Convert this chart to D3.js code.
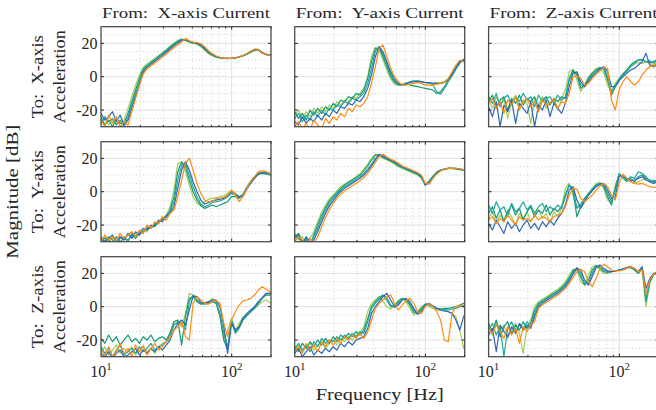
<!DOCTYPE html>
<html>
<head>
<meta charset="utf-8">
<script src="https://cdn.jsdelivr.net/npm/d3@7"></script>
<style>
    body { margin: 0; background: #fff; }
    text { font-family: "Liberation Serif", "DejaVu Serif", serif; fill: #262626; white-space: pre; }
</style>
</head>
<body>
<div id="chart"></div>
<script>
// frequency points shared by every curve [Hz]
const freqHz = [10, 10.7, 11.45, 12.25, 13.1, 14, 15, 16.1, 17.2, 18.4,
    19.7, 21, 22.5, 24.1, 25.8, 27.6, 29.5, 31.6, 33.8, 36.2,
    38.7, 41.4, 44.3, 47.4, 50.7, 54.3, 58.1, 62.1, 66.5, 71.1,
    76.1, 81.4, 87.1, 93.2, 99.7, 106.7, 114.2, 122.2, 130.7, 139.9,
    149.7, 160.1, 171.3, 183.3, 196.2, 200]

const inputNames = ["X-axis", "Y-axis", "Z-axis"]
const outputNames = ["X-axis", "Y-axis", "Z-axis"]
const yTicks = [-20, 0, 20]
const xTickExp = [1, 2]

// magnitude [dB], five measurements per transfer function
// From X current -> To X acceleration
const xToX_1 = [-27,-25,-29,-26,-28,-27,-26,-19,-12,-5, 1,5.5,7.6,9.3,11,12.8,14.6,16.4,18.3,20.2, 21.8,22.6,21.6,20.5,20.2,19.6,18,15.8,13.8,12.4, 11.6,11.2,11,11,11,11.2,11.7,12.4,13.4,14.6, 15.8,15.9,14,13.2,12.9,12.8]
const xToX_2 = [-24,-29,-26,-30,-25,-28,-28,-22,-15,-8, -1,4.5,6.8,8.6,10.4,12.2,14,15.9,17.8,19.6, 21.3,22.5,22,21,20.2,19.8,18.5,16.4,14.4,12.9, 11.9,11.3,11,11,11,11.2,11.8,12.6,13.6,14.8, 16,16.1,14.2,13.3,13,12.8]
const xToX_3 = [-28,-24,-27,-25,-29,-26,-30,-24,-17,-10, -3,3.5,6.2,8,9.8,11.6,13.4,15.3,17.2,19, 20.8,22.2,22.2,21.2,20.3,19.9,18.8,16.8,14.7,13.1, 12,11.4,11,10.9,11,11.2,11.8,12.6,13.7,15, 16.2,16.3,14.4,13.4,13,12.8]
const xToX_4 = [-22,-26,-24,-21,-27,-23,-29,-26,-19,-12, -5,2.5,5.6,7.4,9.2,11,12.8,14.7,16.6,18.5, 20.3,21.7,22.3,21.3,20.5,20,19.2,17.2,15,13.4, 12.2,11.5,11.1,11,11,11.3,11.9,12.7,13.8,15.1, 16.4,16.4,14.5,13.5,13.1,12.9]
const xToX_5 = [-26,-30,-23,-28,-24,-30,-27,-29,-21,-13, -5,1.5,4.8,6.4,8.2,10,11.8,13.6,15.5,17.4, 19.2,20.8,23,21.5,20.8,20.6,19.8,18,15.6,13.8, 12.4,11.6,11.1,11,11,11.3,11.9,12.8,13.9,15.3, 16.6,16.2,14.2,13.2,12.8,12.6]

// From Y current -> To X acceleration
const yToX_1 = [-23,-20,-25,-21,-24,-19,-22,-18,-21,-17, -19,-15,-17,-14,-15,-12,-13,-10,-7,0, 12,17.5,16,10,4,-1.5,-4.5,-5,-4.5,-3.5, -3.5,-3,-2.5,-3,-3.5,-4,-4,-3.5,-3.5,-3, -1,2,6,9,10,9]
const yToX_2 = [-21,-25,-22,-26,-20,-23,-19,-22,-18,-20, -16,-18,-14,-15,-12,-13,-10,-11,-8,-1, 9,17,17,12,6,0,-3.5,-5,-5,-4.5, -5,-5.5,-6,-6.5,-7,-7.5,-8,-10,-9,-6, -2,1,5,8.5,10,9.5]
const yToX_3 = [-25,-22,-27,-23,-26,-21,-24,-20,-23,-19, -20,-17,-18,-15,-16,-13,-14,-12,-10,-4, 5,15,18,13.5,7.5,1.5,-2.5,-4.5,-5,-4, -3,-2.5,-2.5,-3,-3.5,-3.5,-5,-9,-10.5,-7, -3,0.5,4.5,8,10.5,10]
const yToX_4 = [-27,-29,-24,-28,-25,-27,-23,-26,-22,-24, -20,-22,-18,-19,-16,-17,-14,-15,-12,-7, 1,12,18,15,9,3,-1.5,-4,-5,-4.5, -3.5,-3,-3,-3,-3.5,-3.5,-4,-4,-4,-3.5, -1.5,1.5,5.5,9,10,9.5]
const yToX_5 = [-30,-27,-31,-28,-32,-26,-29,-31,-25,-28, -24,-26,-22,-24,-19,-21,-17,-18,-16,-12, -4,6,17,19,12,5,0,-3,-5,-5, -4.5,-4,-3.5,-4,-5,-5,-5,-4.5,-4,-3.5, -1,3,7,10,9,8]

// From Z current -> To X acceleration
const zToX_1 = [-14,-19,-12,-17,-13,-25,-15,-11,-18,-14, -16,-28,-13,-17,-12,-19,-15,-14,-20,-13, -8,3,4.5,-2,-9,-5,0,2.5,5,5.5, 2,-5,-9,-4,-1,2,4,6,7.5,8.5, 8,9,8,7,9,10]
const zToX_2 = [-15,-11,-19,-14,-12,-20,-13,-16,-11,-17, -13,-15,-12,-19,-14,-12,-17,-13,-15,-12, -13,-1,4,1,-7,-5,-1,2,4,5.5, 4.5,-2,-11,-6,-1.5,1.5,4,7,9,10, 10,9,8.5,9,10.5,10]
const zToX_3 = [-12,-16,-10,-18,-13,-11,-17,-12,-15,-10, -14,-12,-18,-11,-15,-13,-12,-16,-11,-14, -12,-2,3,2,-5,-6,-2,1,3,5, 5.5,0,-9,-5,-2,1,3,6,8,10, 10.5,9,9.5,8,10,9]
const zToX_4 = [-18,-24,-15,-30,-17,-21,-14,-28,-16,-19, -22,-15,-30,-17,-20,-14,-24,-16,-19,-22, -16,-6,2,3,-3,-6,-3,0,2,4.5, 6,3,-6,-6,-2.5,0,2,4,5,7, 9,14,7,6,8,9]
const zToX_5 = [-16,-13,-19,-15,-22,-14,-17,-12,-20,-15, -13,-18,-15,-21,-14,-17,-16,-13,-19,-15, -16,-10,0,0.5,-1,-5,-4,-1,1.5,3.5, 5.5,5,-14,-20,-8,-3,0,-3,-5,-3, 1,4,6,7,5,7]

// From X current -> To Y acceleration
const xToY_1 = [-29,-27,-30,-28,-29,-27,-29,-26,-27,-25, -26,-23,-24,-21,-20,-18,-17,-14,-9,1, 17,17.5,12,4,-3,-7,-8,-6,-4.5,-4, -3.5,-3,-2.5,-1,1,-1,-3,-1,3,6.5, 9,11,11.5,11,10.5,10]
const xToY_2 = [-30,-28,-29,-31,-27,-30,-28,-29,-26,-28, -25,-24,-22,-22,-20,-19,-16,-15,-11,-3, 12,18,15,7,0,-5,-8.5,-10,-9,-8, -9,-8,-7,-6,-3,-3,-4,-2,2,6, 8.5,10.5,11,10.5,10,10]
const xToY_3 = [-28,-30,-27,-29,-31,-28,-27,-30,-25,-27, -24,-25,-21,-22,-19,-18,-17,-14,-12,-6, 7,16,17,10,3,-3,-7.5,-9,-8,-6.5, -6,-5.5,-4.5,-3,-1,-2,-3.5,-2,2.5,6, 9,11,11.5,11,10.5,10]
const xToY_4 = [-27,-30,-28,-26,-30,-27,-29,-25,-28,-24, -26,-22,-23,-20,-21,-17,-18,-15,-13,-9, 2,13,18,13,6,0,-5,-7.5,-6.5,-5.5, -5,-4.5,-4,-2.5,0,-1.5,-3,-2.5,1.5,5, 8,10.5,11.5,11.5,11,10.5]
const xToY_5 = [-30,-26,-29,-27,-30,-25,-28,-26,-24,-27, -23,-25,-20,-22,-18,-19,-15,-17,-13,-11, -3,7,17,20,13,5,-1,-5,-6,-6, -4,-4,-3.5,-2,1,-2,-6,-3,2,6, 9,12,12.5,12,11,10.5]

// From Y current -> To Y acceleration
const yToY_1 = [-25,-29,-27,-31,-28,-24,-18,-12,-8,-4.5, -2,0.5,3,4.5,6,7.5,9,11,13.5,16.5, 20,22.5,21.5,20,19,18,16.5,15,14,13, 12,11,10,8,4,6.5,9.5,12,13,13.5, 14,13.8,13.5,13.2,13,12.8]
const yToY_2 = [-27,-25,-30,-28,-32,-26,-20,-14,-9.5,-5.5, -3,-0.5,2,4,5.5,7,8.5,10,12.5,15.5, 19,22,22,20.5,19.5,18.5,17,15.5,14.5,13.5, 12.5,11.5,10.5,8.5,4.5,6,9,11.5,13,13.5, 14,14,13.6,13.3,13,12.8]
const yToY_3 = [-26,-28,-30,-29,-31,-27,-22,-16,-11,-7, -4,-1.5,1,3,4.5,6,7.5,9,11,13.5, 16.5,20,22,21,19.5,19,17.5,16,14.5,13.5, 12.5,11.5,10.5,9,4,6,9,11.5,13,13.5, 14,14,13.8,13.5,13.2,13]
const yToY_4 = [-28,-26,-31,-27,-30,-29,-24,-18,-13,-8.5, -5.5,-2.5,0,2,3.5,5,6.5,8,10,12.5, 15.5,19,22.5,21.5,20,19,18,16.5,15,14, 13,12,11,9.5,4,5.5,8.5,11,12.5,13.5, 14,14,14,13.6,13.3,13]
const yToY_5 = [-30,-27,-29,-32,-28,-31,-27,-21,-15.5,-11, -7,-4,-1.5,0.5,2,3.5,5,6.5,8.5,11, 14,17.5,21,22.5,21,19.5,18.5,17,15.5,14.5, 13.5,12.5,11.5,10,5,4.5,8,10.5,12.5,13.5, 14,14.2,14,13.6,13.2,13]

// From Z current -> To Y acceleration
const zToY_1 = [-16,-12,-19,-14,-17,-11,-15,-20,-13,-16, -12,-18,-14,-11,-16,-13,-19,-12,-15,-10, 2,5,-2,-9,-7,-4,-1,2,5,5.5, 2,-5,-7,4,10,9,7,6,5,6, 7,8,6,5,6,7]
const zToY_2 = [-13,-9,-16,-11,-18,-12,-8,-14,-10,-17, -12,-9,-15,-11,-13,-8,-14,-10,-12,-9, -2,4,0,-15,-9,-5,-2,1,3.5,5, 3,-3,-8,2,10.5,9,7,8,6,9, 10,8,7,6,7,5]
const zToY_3 = [-8,-13,-6,-11,-9,-15,-7,-12,-10,-6, -11,-8,-13,-9,-7,-12,-9,-11,-8,-10, -3,4,2,-10,-8,-4,-1,1.5,4,5, 4.5,-1,-6,1,11,8,6,9,8,12, 11,9,6,7,5,4]
const zToY_4 = [-19,-23,-17,-21,-25,-18,-22,-19,-24,-20, -17,-22,-19,-23,-18,-21,-17,-20,-16,-13, -8,1,3,-5,-10,-6,-2,0.5,3,4.5, 5,1,-4,-3,9,10,8,6.5,7,8, 9,7,6,5,6,5]
const zToY_5 = [-17,-15,-19,-16,-18,-14,-17,-20,-15,-17, -16,-18,-14,-17,-15,-16,-18,-15,-14,-13, -9,-2,2,1.5,-4,-6,-4,-2,1,3.5, 5,3,-2,-5,5,10.5,8,6,5,4.5, 5,4,3,2.5,3,2]

// From X current -> To Z acceleration
const xToZ_1 = [-27,-24,-29,-26,-23,-28,-25,-27,-24,-29, -26,-23,-27,-25,-28,-24,-22,-21,-15,-9, -8,-12,-4,8,7,3,2,2.5,3,5, 3,-6,-20,-14,-7,-14,-10,-6,-5,-3, -1,1,3,4,2.5,2]
const xToZ_2 = [-19,-22,-17,-21,-18,-23,-20,-17,-21,-19, -22,-18,-20,-17,-21,-19,-18,-20,-16,-9, -8,-23,-6,5,6,3,1.5,2,2.5,3, 2,-6,-20,-26,-8,-15,-12,-7,-5,-3, -1,2,5,7,7,7.5]
const xToZ_3 = [-24,-28,-25,-30,-26,-23,-29,-27,-25,-28, -24,-27,-25,-22,-26,-24,-23,-21,-18,-11, -9,-10,-14,3,7,4,2,1.5,2,3, 3,-4,-16,-24,-9,-16,-13,-8,-5.5,-3, -0.5,2.5,5,7.5,8,8]
const xToZ_4 = [-28,-30,-27,-31,-28,-26,-30,-29,-27,-25, -29,-26,-28,-25,-27,-24,-26,-23,-20,-14, -10,-8,-11,-2,6.5,6,2.5,2,3,4, 4,0,-12,-28,-10,-14,-12,-7,-4,-2, 0,3,5.5,8,8,7.5]
const xToZ_5 = [-26,-29,-24,-30,-27,-22,-28,-25,-30,-23, -27,-24,-29,-25,-22,-26,-24,-21,-19,-14, -12,-9,-18,-20,2,6,4,2,1.5,3, 3.5,2,-10,-18,-8,-3,1,3.5,4,5, 7,10,12,10.5,9,8]

// From Y current -> To Z acceleration
const yToZ_1 = [-26,-23,-27,-24,-22,-26,-23,-21,-25,-22, -20,-23,-19,-21,-18,-20,-17,-16,-12,-3, 2,4,6,3,0,-1.5,1,4,5,3, -1,-5,-3,0,1.5,0,-1,-2,-2,-2.5, -3,-4,-6,-14,-25,-22]
const yToZ_2 = [-24,-27,-22,-25,-21,-24,-20,-23,-19,-22, -18,-21,-17,-19,-16,-18,-15,-17,-14,-7, 0,3,5.5,7,4,0,0.5,3,5,4, 1,-3.5,-4,-1,1.5,1,0,-1,-1.5,-1, -1,-0.5,0,1,2,2.5]
const yToZ_3 = [-25,-22,-26,-23,-27,-21,-24,-19,-22,-20, -21,-18,-20,-17,-19,-16,-18,-15,-16,-9, -1,2,4.5,6.5,5.5,1,-0.5,2,4.5,4.5, 2,-2,-4.5,-2,1.5,1.5,0,-1,-1.5,-1.5, -2,-1.5,-1,0,0.5,1]
const yToZ_4 = [-28,-25,-30,-27,-24,-29,-26,-28,-25,-27, -24,-26,-22,-24,-21,-23,-20,-19,-18,-13, -4,0,3,6,8,4,0,1,4,5, 3,-1,-4.5,-3,1,2,0.5,-1,-2,-2.5, -3,-4,-8,-14,-6,-5]
const yToZ_5 = [-27,-24,-28,-22,-26,-23,-27,-21,-24,-20, -23,-19,-22,-18,-20,-17,-19,-16,-19,-15, -8,-1,2,4,6,7,2,-2,1,3.5, 5,2,-3,-4,0,2,0,-3,-8,-20, -21,-4,0,0.5,1,1]

// From Z current -> To Z acceleration
const zToZ_1 = [-12,-17,-9,-14,-11,-19,-13,-10,-16,-28, -12,-8,0,3,4.5,6,7.5,9,10.5,12.5, 15,19,22.5,22,15,13,19,24,25,22, 20,20,21,21.5,22,22.5,23,23.5,22,20, 22,0,14,19,20,20.5]
const zToZ_2 = [-10,-15,-8,-18,-12,-9,-16,-11,-14,-9, -13,-10,-2,2,3.5,5,6.5,8,9.5,11.5, 14,17.5,21.5,23,18,13,16,22,24.5,23, 21,20.5,21,21.5,22,22.5,23.5,23.5,22,20, 23,4,15,19.5,20,20.5]
const zToZ_3 = [-14,-10,-17,-12,-30,-13,-9,-15,-11,-13, -9,-12,-4,1,3,4.5,6,7.5,9,11, 13,16.5,20.5,23.5,20,14,14,20,24.5,24, 22,21,21,21.5,22,22.5,23.5,24,22.5,20.5, 23.5,3,15,19.5,20,20.5]
const zToZ_4 = [-17,-13,-27,-11,-15,-18,-12,-16,-10,-14, -11,-13,-6,0,2,3.5,5,6.5,8,10, 12,15.5,19.5,23,22,16,13,18,23.5,25, 23,21.5,21,21.5,22,22.5,23.5,24,23,21, 24,11,17,20,20.5,20.5]
const zToZ_5 = [-13,-16,-11,-15,-19,-12,-17,-13,-22,-12, -15,-11,-9,-1,1,2.5,4,5.5,7,9, 11,14,17.5,21,22.5,21,15,12,17,23, 25.5,24,22,21.5,21.5,22,23,24,23,21, 22,8,16,19.5,20,20]

// one row per output axis, one column per input current
const panels = [
    {row: 0, col: 0, series: [xToX_1, xToX_2, xToX_3, xToX_4, xToX_5]},
    {row: 0, col: 1, series: [yToX_1, yToX_2, yToX_3, yToX_4, yToX_5]},
    {row: 0, col: 2, series: [zToX_1, zToX_2, zToX_3, zToX_4, zToX_5]},
    {row: 1, col: 0, series: [xToY_1, xToY_2, xToY_3, xToY_4, xToY_5]},
    {row: 1, col: 1, series: [yToY_1, yToY_2, yToY_3, yToY_4, yToY_5]},
    {row: 1, col: 2, series: [zToY_1, zToY_2, zToY_3, zToY_4, zToY_5]},
    {row: 2, col: 0, series: [xToZ_1, xToZ_2, xToZ_3, xToZ_4, xToZ_5]},
    {row: 2, col: 1, series: [yToZ_1, yToZ_2, yToZ_3, yToZ_4, yToZ_5]},
    {row: 2, col: 2, series: [zToZ_1, zToZ_2, zToZ_3, zToZ_4, zToZ_5]}
]

const colors = ["#a3cc5a", "#17996f", "#22a6a0", "#2d68b3", "#ff8b12"]

// layout
const plotW = 170, plotH = 100
const colLeft = [101, 294.7, 488.6]
const rowTop = [26.7, 141.7, 256.7]

const svg = d3.select("#chart").append("svg")
    .attr("width", 656)
    .attr("height", 410)

const xScale = d3.scaleLog()
    .domain([10, 200])
    .range([0, plotW])
const yScale = d3.scaleLinear()
    .domain([-30, 30])
    .range([plotH, 0])

const xMinor = [20, 30, 40, 50, 60, 70, 80, 90, 200]
const xMajor = [100]
const yMinor = [-25, -15, -10, -5, 5, 10, 15, 25]

const line = d3.line()
    .x((d, i) => xScale(freqHz[i]))
    .y(d => yScale(d))

panels.forEach((p, k) => {
    const g = svg.append("g")
        .attr("transform", "translate(" + colLeft[p.col] + "," + rowTop[p.row] + ")")

    g.append("clipPath")
        .attr("id", "clip" + k)
        .append("rect")
        .attr("width", plotW)
        .attr("height", plotH)

    // grid
    g.selectAll(".gx-minor").data(xMinor).enter().append("line")
        .attr("x1", d => xScale(d)).attr("x2", d => xScale(d))
        .attr("y1", 0).attr("y2", plotH)
        .attr("stroke", "#c4c4c4").attr("stroke-width", 0.8)
        .attr("stroke-dasharray", "1,2.5")
    g.selectAll(".gy-minor").data(yMinor).enter().append("line")
        .attr("x1", 0).attr("x2", plotW)
        .attr("y1", d => yScale(d)).attr("y2", d => yScale(d))
        .attr("stroke", "#c4c4c4").attr("stroke-width", 0.8)
        .attr("stroke-dasharray", "1,2.5")
    g.selectAll(".gx-major").data(xMajor).enter().append("line")
        .attr("x1", d => xScale(d)).attr("x2", d => xScale(d))
        .attr("y1", 0).attr("y2", plotH)
        .attr("stroke", "#e0e0e0").attr("stroke-width", 1)
    g.selectAll(".gy-major").data(yTicks).enter().append("line")
        .attr("x1", 0).attr("x2", plotW)
        .attr("y1", d => yScale(d)).attr("y2", d => yScale(d))
        .attr("stroke", "#e0e0e0").attr("stroke-width", 1)

    // measured curves
    g.append("g")
        .attr("clip-path", "url(#clip" + k + ")")
        .selectAll("path")
        .data(p.series)
        .enter()
        .append("path")
        .attr("d", line)
        .attr("fill", "none")
        .attr("stroke", (d, i) => colors[i])
        .attr("stroke-width", 1.2)
        .attr("stroke-linejoin", "round")

    // box and inward ticks
    g.append("rect")
        .attr("width", plotW).attr("height", plotH)
        .attr("fill", "none").attr("stroke", "#4d4d4d").attr("stroke-width", 1.3)
    yTicks.forEach(v => {
        g.append("line").attr("x1", 0).attr("x2", 3)
            .attr("y1", yScale(v)).attr("y2", yScale(v)).attr("stroke", "#262626")
        g.append("line").attr("x1", plotW - 3).attr("x2", plotW)
            .attr("y1", yScale(v)).attr("y2", yScale(v)).attr("stroke", "#262626")
    })
    xMinor.concat(xMajor).forEach(v => {
        const len = v === 100 ? 3 : 1.8
        g.append("line").attr("x1", xScale(v)).attr("x2", xScale(v))
            .attr("y1", 0).attr("y2", len).attr("stroke", "#262626")
        g.append("line").attr("x1", xScale(v)).attr("x2", xScale(v))
            .attr("y1", plotH - len).attr("y2", plotH).attr("stroke", "#262626")
    })

    // tick labels on outer panels only
    if (p.col === 0) {
        g.selectAll(".ylab").data(yTicks).enter().append("text")
            .attr("x", -3.5)
            .attr("y", d => yScale(d))
            .attr("dy", "0.35em")
            .attr("text-anchor", "end")
            .attr("font-size", 16)
            .text(d => d)
    }
    if (p.row === 2) {
        xTickExp.forEach(e => {
            const t = g.append("text")
                .attr("x", xScale(Math.pow(10, e)))
                .attr("y", plotH + 20)
                .attr("text-anchor", "middle")
                .attr("font-size", 16)
            t.append("tspan").text("10")
            t.append("tspan").attr("font-size", 11).attr("dy", -7).text(e)
        })
    }
})

// column titles
inputNames.forEach((name, c) => {
    svg.append("text")
        .attr("x", colLeft[c] + plotW / 2)
        .attr("y", 18.3)
        .attr("text-anchor", "middle")
        .attr("font-size", 15)
        .attr("textLength", 168)
        .attr("lengthAdjust", "spacingAndGlyphs")
        .text("From:  " + name + " Current")
})

// row labels
outputNames.forEach((name, r) => {
    const cy = rowTop[r] + plotH / 2
    svg.append("text")
        .attr("transform", "translate(43," + cy + ") rotate(-90)")
        .attr("text-anchor", "middle")
        .attr("font-size", 16)
        .attr("textLength", 83)
        .attr("lengthAdjust", "spacingAndGlyphs")
        .text("To:  " + name)
    svg.append("text")
        .attr("transform", "translate(65," + cy + ") rotate(-90)")
        .attr("text-anchor", "middle")
        .attr("font-size", 16)
        .attr("textLength", 93)
        .attr("lengthAdjust", "spacingAndGlyphs")
        .text("Acceleration")
})

// axis labels
svg.append("text")
    .attr("transform", "translate(18.3," + (rowTop[0] + (rowTop[2] + plotH - rowTop[0]) / 2) + ") rotate(-90)")
    .attr("text-anchor", "middle")
    .attr("font-size", 17)
    .attr("textLength", 134)
    .attr("lengthAdjust", "spacingAndGlyphs")
    .text("Magnitude [dB]")

svg.append("text")
    .attr("x", (colLeft[0] + colLeft[2] + plotW) / 2)
    .attr("y", 400)
    .attr("text-anchor", "middle")
    .attr("font-size", 17)
    .attr("textLength", 128)
    .attr("lengthAdjust", "spacingAndGlyphs")
    .text("Frequency [Hz]")
</script>
</body>
</html>
